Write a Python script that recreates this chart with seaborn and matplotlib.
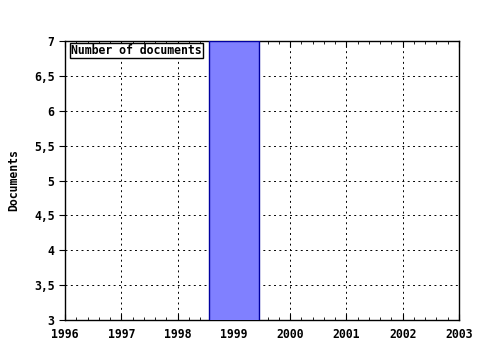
import matplotlib
matplotlib.use("Agg")
import matplotlib.pyplot as plt
import seaborn as sns
import pandas as pd
from matplotlib.ticker import MultipleLocator, FuncFormatter

years = [1999]
documents = [7]
series_label = "Number of documents"
x_ticks = [1996, 1997, 1998, 1999, 2000, 2001, 2002, 2003]
y_ticks = [3, 3.5, 4, 4.5, 5, 5.5, 6, 6.5, 7]

sns.set_style("white")
plt.rcParams['font.family'] = ['DejaVu Sans Mono']
plt.rcParams['font.weight'] = 'bold'
plt.rcParams['text.color'] = 'black'
plt.rcParams['axes.labelcolor'] = 'black'

df = pd.DataFrame({"year": years, "docs": documents})

fig = plt.figure(figsize=(4.8, 3.5), dpi=100)
ax = fig.add_axes([65/480, 1-320/350, (459-65)/480, (320-41)/350])

sns.barplot(data=df, x="year", y="docs", native_scale=True, width=0.9,
            color="#8080ff", saturation=1, edgecolor="#0000a0", linewidth=1,
            ax=ax, label=series_label, zorder=3)

ax.set_xlim(x_ticks[0], x_ticks[-1])
ax.set_ylim(y_ticks[0], y_ticks[-1])
ax.set_xticks(x_ticks)
ax.set_yticks(y_ticks)
ax.xaxis.set_minor_locator(MultipleLocator(0.2))
ax.yaxis.set_major_formatter(FuncFormatter(lambda v, p: (f"{v:g}").replace(".", ",")))
ax.xaxis.set_major_formatter(FuncFormatter(lambda v, p: f"{int(round(v))}"))

ax.grid(True, which="major", color="black", linestyle=(0, (2, 3.5)), linewidth=0.7, zorder=1)
ax.set_axisbelow(True)

for s in ax.spines.values():
    s.set_visible(True)
    s.set_color("black")
    s.set_linewidth(1)

ax.tick_params(axis="x", which="both", direction="in", top=True, bottom=True,
               labelsize=8.3, colors="black", pad=6)
ax.tick_params(axis="x", which="major", length=4)
ax.tick_params(axis="x", which="minor", length=2)
ax.tick_params(axis="y", which="major", direction="out", length=4, left=True,
               labelsize=8.3, colors="black")

ax.set_xlabel("")
ax.set_ylabel("Documents", fontsize=8.3, fontweight="bold", labelpad=10, color="black")

leg = ax.legend(loc="upper left", handlelength=0, handletextpad=0, fancybox=False,
                framealpha=1, edgecolor="black", borderpad=0.1, borderaxespad=0,
                labelcolor="black",
                prop={"size": 8.3, "weight": "bold", "family": "DejaVu Sans Mono"},
                bbox_to_anchor=(5/394, 1-2/279))
for h in leg.legend_handles:
    h.set_visible(False)
leg.get_frame().set_linewidth(1)

fig.savefig("out.png", dpi=100)
